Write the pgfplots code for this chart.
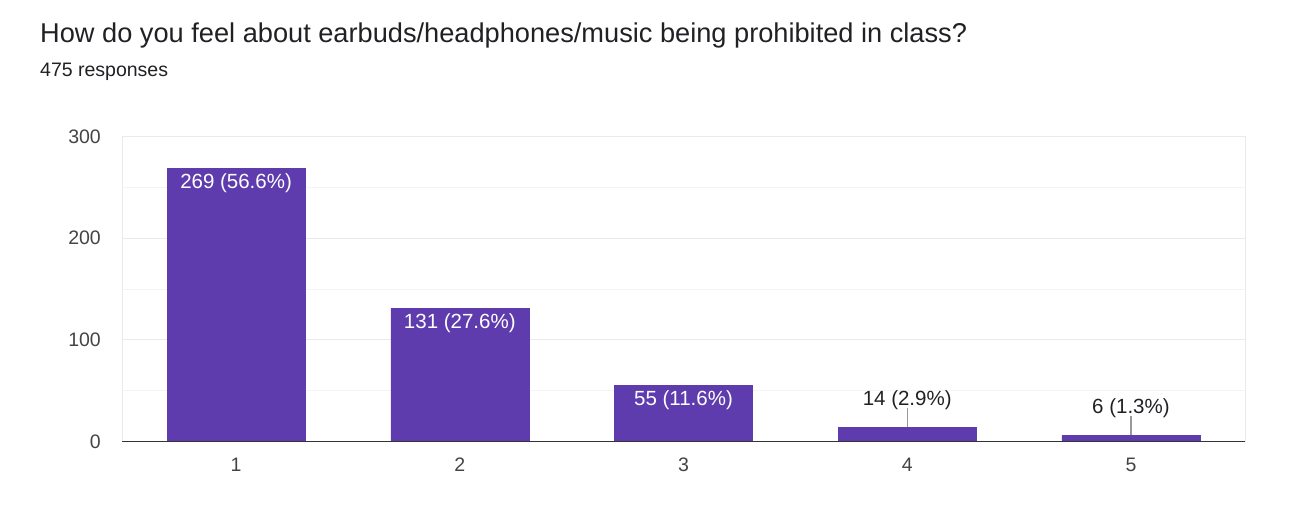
\documentclass[border=0pt]{standalone}
\usepackage{pgfplots}
\pgfplotsset{compat=1.18}
\usepackage{fontspec}
\setmainfont{Liberation Sans}
\definecolor{barc}{HTML}{5E3CAD}
\definecolor{txt}{HTML}{202124}
\definecolor{tickc}{HTML}{444444}
\definecolor{majg}{HTML}{EAEAEA}
\definecolor{ming}{HTML}{F4F4F4}
\begin{document}
\begin{tikzpicture}[x=1pt,y=1pt]
\path[use as bounding box] (0,0) rectangle (1316,504);
\node[anchor=base west, font=\fontsize{27.2}{30}\selectfont, text=txt, inner sep=0] at (40,461) {How do you feel about earbuds/headphones/music being prohibited in class?};
\node[anchor=base west, font=\fontsize{19.5}{22}\selectfont, text=txt, inner sep=0] at (40,427) {475 responses};
\begin{axis}[
  at={(122pt,62.5pt)}, anchor=south west,
  scale only axis, width=1123pt, height=305pt,
  xmin=0.49, xmax=5.51, ymin=0, ymax=300,
  xtick={1,2,3,4,5},
  ytick={0,100,200,300}, minor ytick={50,150,250},
  ymajorgrids, yminorgrids,
  major grid style={draw=majg, line width=1pt},
  minor grid style={draw=ming, line width=1pt},
  axis line style={draw=majg, line width=1pt},
  major tick length=0pt, minor tick length=0pt,
  tick style={draw=none},
  /pgf/number format/assume math mode=true,
  ticklabel style={font=\fontsize{19.5}{22}\selectfont, text=tickc, inner sep=0pt},
  yticklabel style={anchor=east, xshift=-21pt},
  xticklabel style={anchor=north, yshift=-16pt},
  ybar, bar width=138pt, bar shift=0pt,
  clip=false,
]
\addplot[fill=barc, draw=barc, nodes near coords, point meta=explicit symbolic,
  every node near coord/.append style={font=\fontsize{20.5}{24}\selectfont, text=white, anchor=center, yshift=-15pt, inner sep=0pt}]
  coordinates {(1,269) [269 (56.6\%)] (2,131) [131 (27.6\%)] (3,55) [55 (11.6\%)]};
\addplot[fill=barc, draw=barc, nodes near coords, point meta=explicit symbolic,
  every node near coord/.append style={font=\fontsize{20.5}{24}\selectfont, text=txt, anchor=base, yshift=22pt, inner sep=0pt},
  error bars/.cd, y dir=plus, y explicit, error mark=none,
  error bar style={draw=gray!80, line width=1.2pt}]
  coordinates {(4,14) +- (0,18.7) [14 (2.9\%)] (5,6) +- (0,18.7) [6 (1.3\%)]};
\draw[draw=black!80, line width=1.5pt] (rel axis cs:0,0) -- (rel axis cs:1,0);
\end{axis}
\end{tikzpicture}
\end{document}
